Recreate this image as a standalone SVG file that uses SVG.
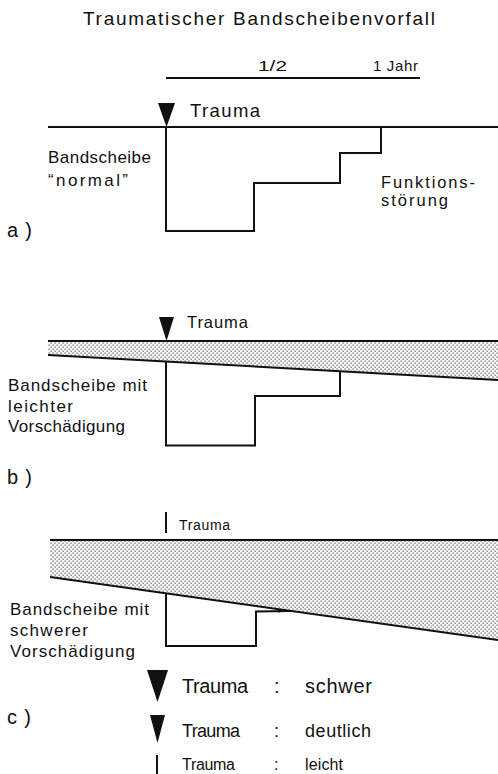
<svg xmlns="http://www.w3.org/2000/svg" width="498" height="774" viewBox="0 0 498 774">
  <style>
    text { font-family: "Liberation Sans", "DejaVu Sans", sans-serif; fill: #111; }
    .t18 { font-size: 17px; }
    .lbl { font-size: 20px; }
    .ln { stroke: #111; stroke-width: 2; fill: none; }
    .band { fill: url(#stipple); stroke: none; }
    .tri { fill: #111; }
  </style>
  <defs>
    <!-- fine stipple used for the damaged disc band -->
    <pattern id="stipple" width="4" height="4" patternUnits="userSpaceOnUse">
      <rect width="4" height="4" fill="#f6f6f6"/>
      <rect x="0.5" y="0.5" width="1.2" height="1.2" fill="#555"/>
      <rect x="2.5" y="2.5" width="1.2" height="1.2" fill="#555"/>
    </pattern>
  </defs>

  <rect width="498" height="774" fill="#fff"/>

  <!-- title and time scale -->
  <g id="title">
    <text x="83" y="25" font-size="19" textLength="352" lengthAdjust="spacing">Traumatischer Bandscheibenvorfall</text>
  </g>
  <g id="timescale">
    <line class="ln" x1="166" y1="78" x2="420" y2="78"/>
    <text x="258" y="71" font-size="15" textLength="29" lengthAdjust="spacingAndGlyphs">1/2</text>
    <text x="373" y="71" font-size="15" textLength="45" lengthAdjust="spacing">1 Jahr</text>
  </g>

  <!-- a) normal disc -->
  <g id="panel-a">
    <line class="ln" x1="48" y1="127" x2="498" y2="127"/>
    <polygon class="tri" points="158,103 175,103 166.5,127"/>
    <text x="190" y="117" font-size="18.5" textLength="70" lengthAdjust="spacing">Trauma</text>
    <text x="48" y="163" class="t18" textLength="103" lengthAdjust="spacing">Bandscheibe</text>
    <text x="48" y="186" class="t18" textLength="80" lengthAdjust="spacing">“normal”</text>
    <text x="381" y="188" font-size="16.5" textLength="94" lengthAdjust="spacing">Funktions-</text>
    <text x="381" y="206" font-size="16.5" textLength="67" lengthAdjust="spacing">störung</text>
    <text x="7" y="237" class="lbl" textLength="25" lengthAdjust="spacing">a)</text>
  </g>

  <!-- b) slight prior damage -->
  <g id="panel-b">
    <polygon class="band" points="48,341 498,341 498,380 48,355"/>
    <line class="ln" x1="48" y1="341" x2="498" y2="341"/>
    <line class="ln" x1="48" y1="355" x2="498" y2="380"/>
    <polygon class="tri" points="159,317 174,317 166.5,341"/>
    <text x="187" y="328" font-size="16.5" textLength="61" lengthAdjust="spacing">Trauma</text>
    <text x="8" y="391" class="t18" textLength="139" lengthAdjust="spacing">Bandscheibe mit</text>
    <text x="8" y="412" class="t18" textLength="65" lengthAdjust="spacing">leichter</text>
    <text x="8" y="432" class="t18" textLength="117" lengthAdjust="spacing">Vorschädigung</text>
    <text x="7" y="484" class="lbl" textLength="25" lengthAdjust="spacing">b)</text>
  </g>

  <!-- c) severe prior damage -->
  <g id="panel-c">
    <polygon class="band" points="50,540 498,540 498,640 50,577"/>
    <line class="ln" x1="50" y1="540" x2="498" y2="540"/>
    <line class="ln" x1="50" y1="577" x2="498" y2="640"/>
    <line class="ln" x1="166" y1="512" x2="166" y2="533"/>
    <text x="179" y="530" font-size="14" textLength="51" lengthAdjust="spacing">Trauma</text>
    <text x="10" y="615" class="t18" textLength="139" lengthAdjust="spacing">Bandscheibe mit</text>
    <text x="10" y="636" class="t18" textLength="78" lengthAdjust="spacing">schwerer</text>
    <text x="10" y="657" class="t18" textLength="125" lengthAdjust="spacing">Vorschädigung</text>
    <text x="7" y="724" class="lbl" textLength="24" lengthAdjust="spacing">c)</text>
  </g>

  <!-- function curves (loss of function over time) -->
  <g id="connectors">
    <polyline class="ln" points="166,127 166,231 254,231 254,183 340,183 340,153 381,153 381,127"/>
    <polyline class="ln" points="166,362 166,445.5 255,445.5 255,396 340,396 340,372"/>
    <polyline class="ln" points="166,593 166,646 256,646 256,611.5 290,611"/>
    <path d="M278,609.6 L292,610.2 L278,612.5 Z" fill="#111"/>
  </g>

  <!-- key of trauma severity -->
  <g id="legend">
    <polygon class="tri" points="147,670 168,670 157.5,702"/>
    <text x="182" y="693" font-size="20" textLength="66" lengthAdjust="spacing">Trauma</text>
    <text x="274" y="693" font-size="20">:</text>
    <text x="305" y="693" font-size="20" textLength="67" lengthAdjust="spacing">schwer</text>

    <polygon class="tri" points="150,715 165,715 157.5,743"/>
    <text x="182" y="737" font-size="18" textLength="58" lengthAdjust="spacing">Trauma</text>
    <text x="274" y="737" font-size="18">:</text>
    <text x="305" y="737" font-size="18" textLength="66" lengthAdjust="spacing">deutlich</text>

    <line class="ln" x1="157" y1="755" x2="157" y2="774"/>
    <text x="182" y="770" font-size="16" textLength="53" lengthAdjust="spacing">Trauma</text>
    <text x="274" y="770" font-size="16">:</text>
    <text x="305" y="770" font-size="16" textLength="38" lengthAdjust="spacing">leicht</text>
  </g>
</svg>
